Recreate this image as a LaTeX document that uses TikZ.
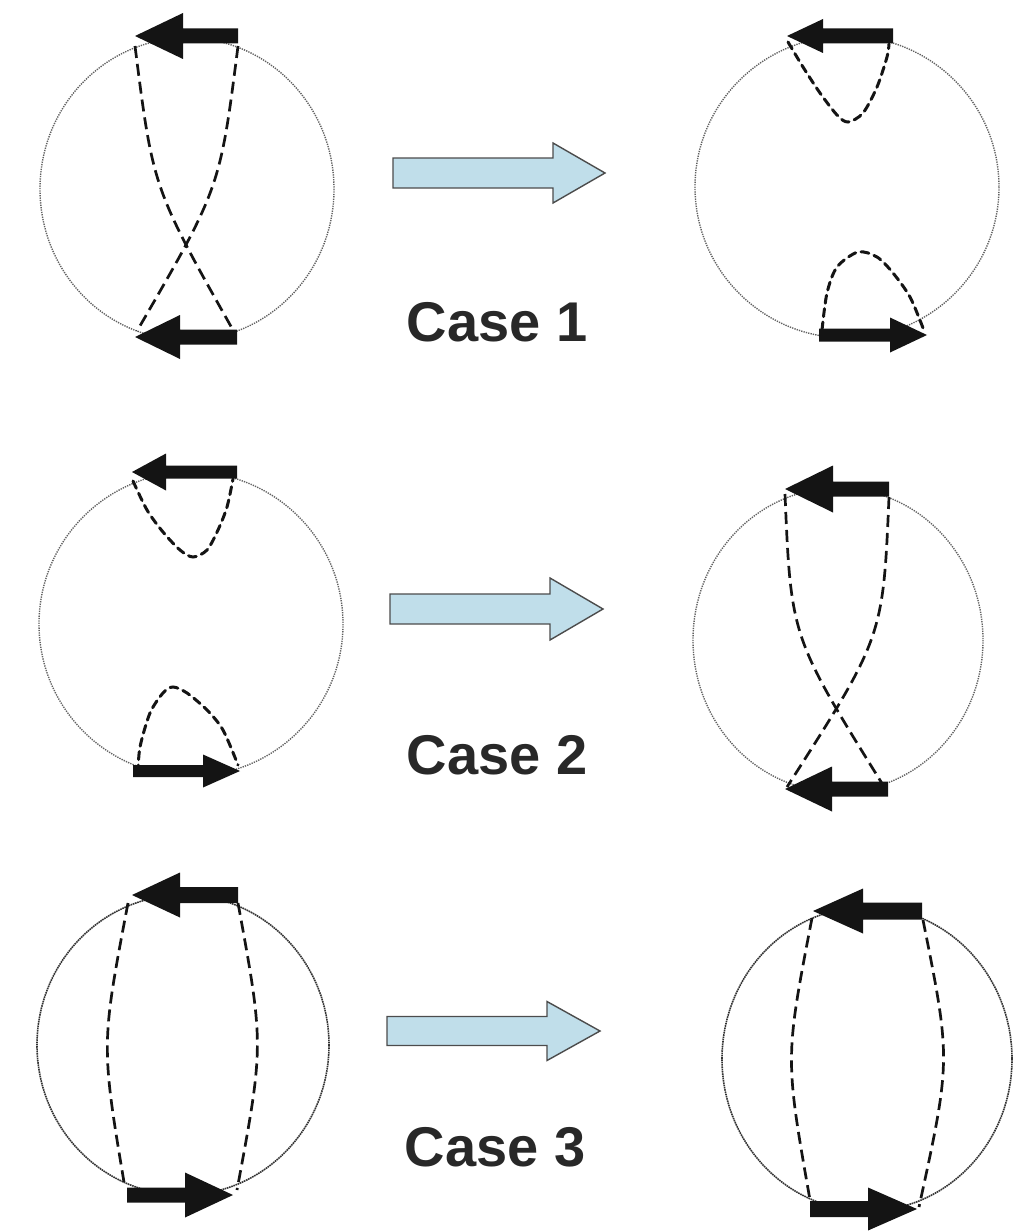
\documentclass[tikz,border=0pt]{standalone}
\usepackage{fontspec}
\setmainfont{Liberation Sans}
\definecolor{arrowblue}{RGB}{192,222,234}
\definecolor{inkgray}{RGB}{40,40,40}

% solid polygon arrow: style, tip x, centre y, head base x, tail x, head half-height, shaft half-thickness
\newcommand\blockarrow[7]{%
  \path[#1] (#2,#3) -- (#4,{#3-#6}) -- (#4,{#3-#7}) -- (#5,{#3-#7})
    -- (#5,{#3+#7}) -- (#4,{#3+#7}) -- (#4,{#3+#6}) -- cycle;}

\begin{document}
\begin{tikzpicture}[x=1pt,y=-1pt,
  ring/.style={draw=black!62, line width=1.4pt, dash pattern=on 1.3pt off 1.1pt},
  darkring/.style={draw=black!80, line width=1.6pt, dash pattern=on 1.6pt off 0.7pt},
  link/.style={draw=black!92, line width=2.7pt, dash pattern=on 12pt off 6pt},
  shortlink/.style={draw=black!92, line width=3pt, dash pattern=on 8pt off 5.5pt, line cap=round},
  spin/.style={fill=black!92},
  flow/.style={fill=arrowblue, draw=black!70, line width=1.4pt, line join=miter},
  casetext/.style={text=inkgray, font=\fontsize{56pt}{60pt}\selectfont\bfseries, inner sep=0pt, anchor=base}]

\useasboundingbox (0,0) rectangle (1017,1231);

% ---------- row 1, left: crossed pairing ----------
\draw[ring] (187,189) ellipse [x radius=147, y radius=151];
\draw[link] (135,46) .. controls (153,188) .. (233,330);
\draw[link] (238,46) .. controls (220,188) .. (137,331);
\blockarrow{spin}{135}{36}{183}{238}{23}{7.5}
\blockarrow{spin}{135}{337}{180}{237}{22}{7.5}

% ---------- row 1, right: split pairing ----------
\draw[ring] (847,187) ellipse [x radius=152, y radius=151];
\draw[shortlink] plot[smooth] coordinates {(788,42) (803,67) (820,93) (837,115) (848,122) (863,113) (877,87) (887,57) (889,44)};
\draw[shortlink] plot[smooth] coordinates {(822,330) (827,293) (837,267) (858,252) (877,257) (893,273) (910,297) (923,328)};
\blockarrow{spin}{787}{36}{823}{893}{17}{7.5}
\blockarrow{spin}{927}{335}{890}{819}{17.5}{6.5}

% ---------- row 2, left: split pairing ----------
\draw[ring] (191,624) ellipse [x radius=152, y radius=152];
\draw[shortlink] plot[smooth] coordinates {(133,481) (147,510) (163,532) (180,550) (193,557) (207,550) (218,530) (227,507) (233,479)};
\draw[shortlink] plot[smooth] coordinates {(138,773) (140,747) (150,713) (163,693) (173,687) (187,693) (207,710) (223,730) (238,765)};
\blockarrow{spin}{132}{472}{166}{237}{18.5}{6.5}
\blockarrow{spin}{240}{771}{203}{133}{16.5}{6}

% ---------- row 2, right: crossed pairing ----------
\draw[ring] (838,640) ellipse [x radius=145, y radius=152];
\draw[link] (785,494) .. controls (791,637) .. (883,785);
\draw[link] (889,497) .. controls (883,637) .. (787,787);
\blockarrow{spin}{785}{489}{833}{889}{23.5}{7.5}
\blockarrow{spin}{785}{789}{832}{888}{22.5}{7.5}

% ---------- row 3, left: parallel pairing ----------
\draw[darkring] (183,1045) ellipse [x radius=146, y radius=150];
\draw[link] (128,903) .. controls (101,1045) .. (125,1188);
\draw[link] (238,903) .. controls (264,1045) .. (237,1190);
\blockarrow{spin}{132}{895}{180}{238}{22.5}{8}
\blockarrow{spin}{233}{1195}{185}{127}{22.5}{7.5}

% ---------- row 3, right: parallel pairing ----------
\draw[darkring] (867,1059) ellipse [x radius=145, y radius=152];
\draw[link] (812,918) .. controls (785,1058) .. (810,1200);
\draw[link] (923,920) .. controls (951,1060) .. (919,1207);
\blockarrow{spin}{813}{911}{863}{922}{22.5}{8.5}
\blockarrow{spin}{917}{1209}{868}{810}{21.5}{8}

% ---------- transition arrows and case labels ----------
\blockarrow{flow}{605}{173}{553}{393}{30}{15}
\blockarrow{flow}{603}{609}{550}{390}{31}{15}
\blockarrow{flow}{600}{1031}{547}{387}{29.5}{14.5}

\node[casetext] (case1) at (497,341) {Case 1};
\node[casetext] (case2) at (497,774) {Case 2};
\node[casetext] (case3) at (495,1166) {Case 3};
\end{tikzpicture}
\end{document}
